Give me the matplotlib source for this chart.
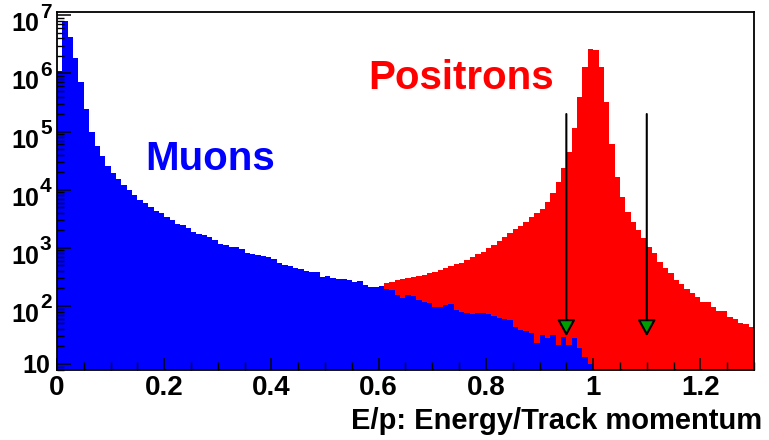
import numpy as np
import matplotlib
matplotlib.use("Agg")
import matplotlib.pyplot as plt
from matplotlib import transforms
from matplotlib.ticker import MultipleLocator, LogLocator, NullFormatter, FixedLocator

# ---------------- data (bin width 0.01, from E/p = 0 to 1.3) ----------------
bin_width = 0.01
muons = [
    1.1e6, 8.1e6, 4.3e6, 1.87e6, 7.2e5, 2.4e5, 9.9e4, 5.6e4, 3.8e4, 2.6e4,
    1.9e4, 1.5e4, 1.2e4, 9.8e3, 8.1e3, 6.6e3, 5.8e3, 5.0e3, 4.3e3, 3.9e3,
    3400, 3000, 2600, 2455, 2157, 1885, 1700, 1650, 1546, 1356,
    1157, 1113, 1040, 1016, 950, 821, 780, 749, 720, 684,
    632, 552, 504, 490, 453, 425, 397, 386, 377, 317,
    326, 305, 293, 286, 278, 254, 268, 228, 214, 208,
    219, 195, 190, 155, 136, 155, 150, 126, 117, 112,
    96, 96, 103, 108, 85, 78, 75, 72, 75, 75,
    72, 66, 62, 60, 57, 43, 39, 37, 34, 23,
    32, 28, 32, 21, 29.5, 21, 28, 18.6, 13.4, 9.8,
    0, 0, 0, 0, 0, 0, 0, 0, 0, 0,
    0, 0, 0, 0, 0, 0, 0, 0, 0, 0,
    0, 0, 0, 0, 0, 0, 0, 0, 0, 0,
]
positrons = [
    28, 33, 36, 41, 40, 45, 47, 46, 51, 53,
    55, 58, 57, 61, 64, 63, 68, 70, 69, 74,
    76, 79, 81, 85, 84, 89, 93, 92, 97, 101,
    104, 103, 109, 112, 115, 118, 117, 123, 126, 129,
    133, 136, 135, 141, 145, 147, 151, 155, 153, 159,
    163, 166, 168, 172, 175, 180, 186, 190, 196, 200,
    210, 250, 260, 278, 286, 298, 309, 326, 339, 362,
    386, 413, 442, 484, 518, 553, 614, 683, 780, 854,
    977, 1113, 1319, 1510, 1770, 2072, 2361, 2800, 3333, 4000,
    4700, 6180, 8830, 1.36e4, 2.32e4, 4.48e4, 1.13e5, 3.95e5, 1.30e6, 2.6e6,
    2.55e6, 1.30e6, 3.24e5, 6.07e4, 1.66e4, 7.5e3, 4160, 2800, 2015, 1451,
    1040, 801, 575, 453, 363, 278, 235, 195, 164, 144,
    118, 115, 97, 83, 81, 65, 59, 50, 49, 44,
]
cut_positions = [0.95, 1.10]          # E/p selection cuts (arrows)
cut_arrow_top = 2.0e5
cut_arrow_tip = 30
xtick_values = [0, 0.2, 0.4, 0.6, 0.8, 1.0, 1.2]
xtick_labels = ["0", "0.2", "0.4", "0.6", "0.8", "1", "1.2"]
ytick_values = [1e1, 1e2, 1e3, 1e4, 1e5, 1e6, 1e7]
ytick_exponents = ["", "2", "3", "4", "5", "6", "7"]
xlabel = "E/p: Energy/Track momentum"

# ---------------- figure ----------------
FONT = "Liberation Sans"
W, H = 769, 440
fig = plt.figure(figsize=(W / 100, H / 100), dpi=100)
ax_l, ax_r, ax_t, ax_b = 57, 754, 12.5, 370
ax = fig.add_axes([ax_l / W, 1 - ax_b / H, (ax_r - ax_l) / W, (ax_b - ax_t) / H])

nb = len(muons)
edges = np.arange(nb + 1) * bin_width
mu = np.asarray(muons, float)
po = np.asarray(positrons, float)
base = 1.0
ax.stairs(np.where(po > 0, po, base), edges, baseline=base, fill=True,
          color="#ff0000", lw=0, zorder=1)
ax.stairs(np.where(mu > 0, mu, base), edges, baseline=base, fill=True,
          color="#0000ff", lw=0, zorder=1.1)

ax.set_yscale("log")
ax.set_xlim(0, nb * bin_width)
ax.set_ylim(7.88, 1.117e7)

# arrows
for xc in cut_positions:
    ax.annotate("", xy=(xc, cut_arrow_tip), xytext=(xc, cut_arrow_top),
                arrowprops=dict(arrowstyle="-|>,head_length=1.0,head_width=0.55",
                                fc="#00a000", ec="black", lw=1.5,
                                shrinkA=0, shrinkB=0, mutation_scale=10),
                zorder=3)

# labels inside
ax.text((145 - ax_l) / (ax_r - ax_l), (ax_b - 170) / (ax_b - ax_t), "Muons",
        transform=ax.transAxes, color="#0000ff", fontsize=29,
        fontweight="bold", family=FONT, ha="left", va="baseline")
ax.text((368 - ax_l) / (ax_r - ax_l), (ax_b - 89) / (ax_b - ax_t), "Positrons",
        transform=ax.transAxes, color="#ff0000", fontsize=29,
        fontweight="bold", family=FONT, ha="left", va="baseline")

# spines and ticks
for s in ax.spines.values():
    s.set_linewidth(1.3)
    s.set_color("black")
ax.xaxis.set_major_locator(FixedLocator(xtick_values))
ax.set_xticklabels(xtick_labels, fontsize=20, fontweight="bold", family=FONT)
ax.xaxis.set_minor_locator(MultipleLocator(0.05))
ax.yaxis.set_major_locator(FixedLocator(ytick_values))
ax.yaxis.set_minor_locator(LogLocator(base=10, subs=np.arange(2, 10)))
ax.yaxis.set_major_formatter(NullFormatter())
ax.yaxis.set_minor_formatter(NullFormatter())
ax.tick_params(axis="x", which="major", direction="in", length=8.5, width=1.1,
               pad=3.5, top=False)
ax.tick_params(axis="x", which="minor", direction="in", length=5.5, width=1.0, top=False)
ax.tick_params(axis="y", which="major", direction="in", length=10, width=1.1, right=False)
ax.tick_params(axis="y", which="minor", direction="in", length=5, width=1.0, right=False)

# y tick labels in ROOT style (10 with raised exponent)
blend = transforms.blended_transform_factory(fig.transFigure, ax.transData)
for val, ex in zip(ytick_values, ytick_exponents):
    if ex == "":
        tr = transforms.offset_copy(blend, fig=fig, x=0, y=-2, units="dots")
        fig.text(50 / W, val, "10", transform=tr, fontsize=18, fontweight="bold",
                 family=FONT, ha="right", va="center")
    else:
        tr = transforms.offset_copy(blend, fig=fig, x=0, y=-9, units="dots")
        fig.text(39 / W, val, "10", transform=tr, fontsize=18, fontweight="bold",
                 family=FONT, ha="right", va="center")
        tr2 = transforms.offset_copy(blend, fig=fig, x=0, y=3, units="dots")
        fig.text(40 / W, val, ex, transform=tr2, fontsize=15, fontweight="bold",
                 family=FONT, ha="left", va="center")

fig.text(762 / W, 1 - 429 / H, xlabel, fontsize=21, fontweight="bold",
         family=FONT, ha="right", va="baseline")

fig.savefig("out.png", dpi=100, facecolor="white")
